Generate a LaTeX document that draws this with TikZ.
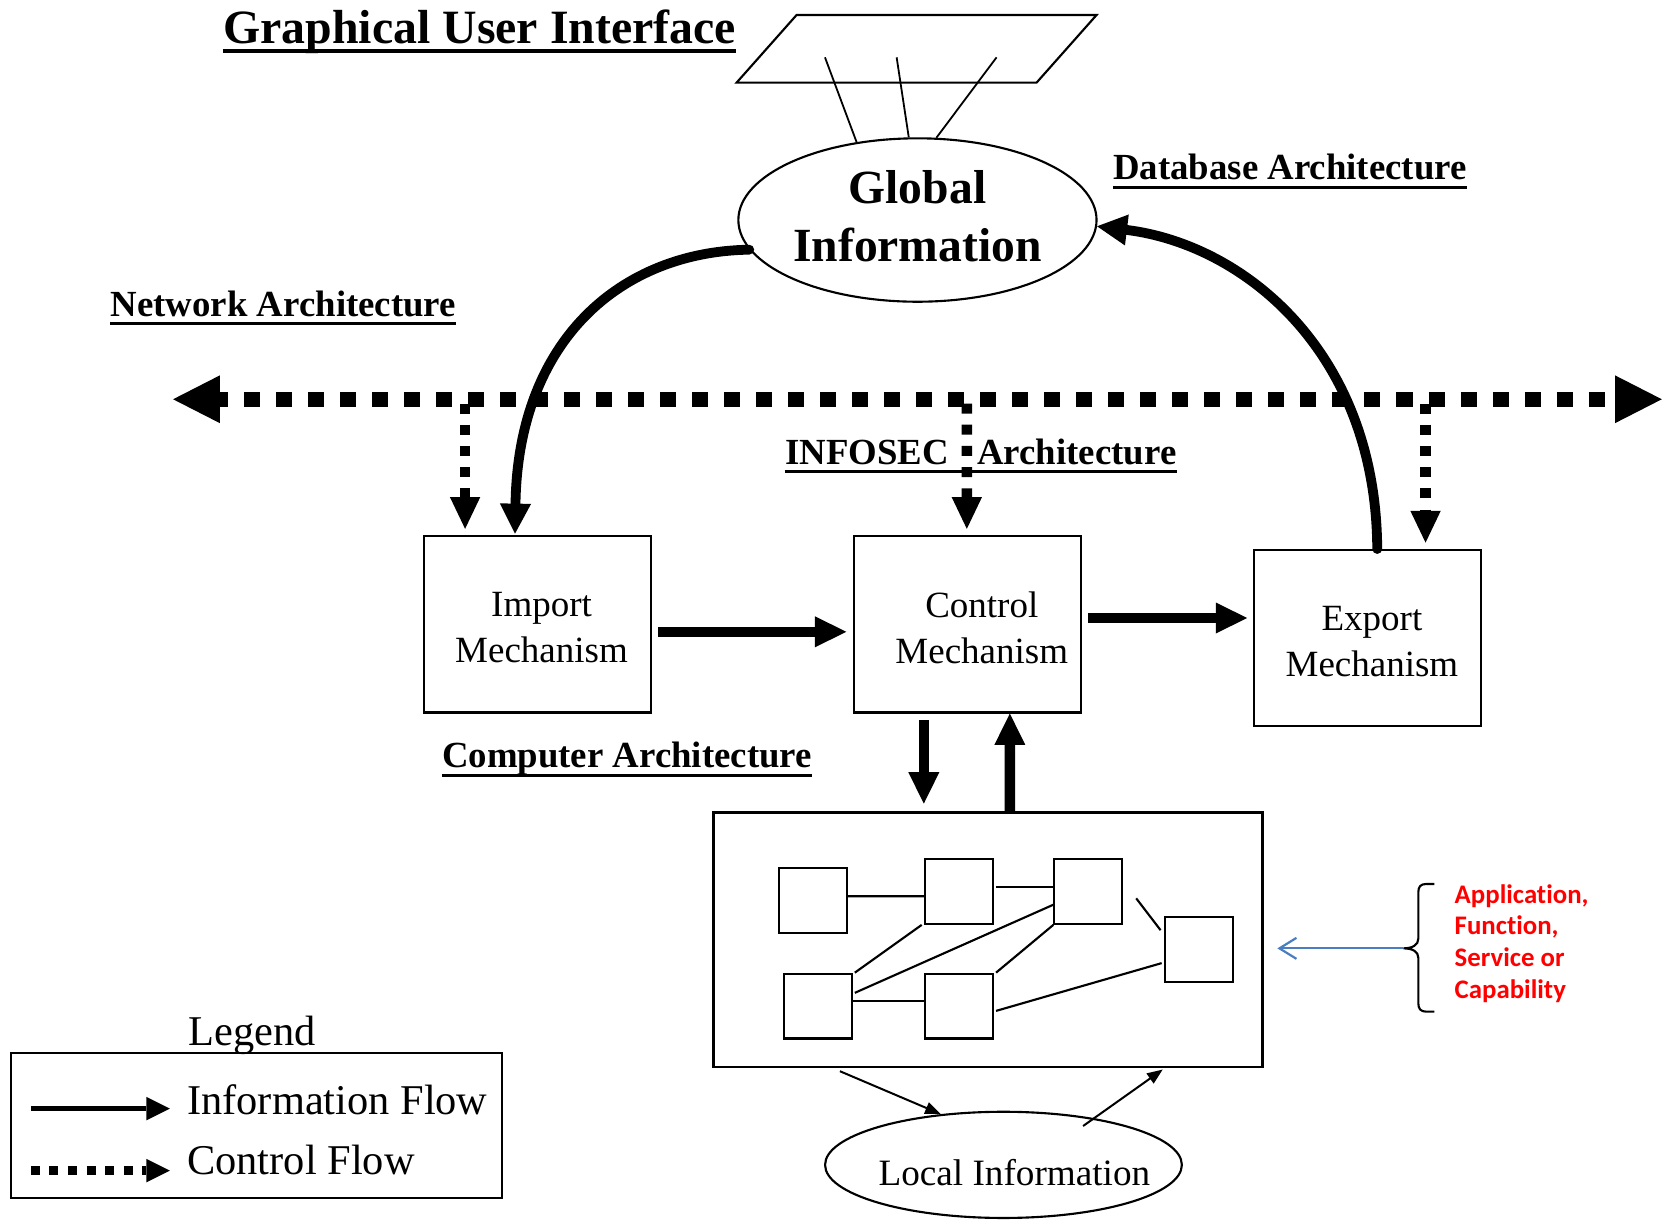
\documentclass[tikz,border=0pt]{standalone}
\usepackage{fontspec}
\setmainfont{Liberation Serif}
\newfontfamily\calibfont[Ligatures=NoCommon]{Carlito}
\usetikzlibrary{arrows.meta,shapes.geometric,calc}
\definecolor{arrowblue}{RGB}{74,126,193}
\definecolor{notered}{RGB}{255,0,0}

\tikzset{
  boxline/.style={draw, line width=1.06pt, inner sep=0pt},
  mech/.style={boxline, minimum width=113.6pt, minimum height=88.1pt},
  sbox/.style={boxline, minimum width=34pt, minimum height=32.4pt},
  mechtxt/.style={font=\fontsize{18.5}{22.8}\selectfont, align=center, inner sep=0pt},
  archlbl/.style={font=\fontsize{18.4}{22}\selectfont\bfseries, inner sep=0pt, anchor=base west},
  uline/.style={line width=1.6pt},
  infoflow/.style={line width=5.3pt, -{Triangle[length=15.7pt,width=15.5pt,line width=0pt]}},
  curveflow/.style={line width=4.9pt, line cap=round, -{Triangle[length=15pt,width=15.6pt,line width=0pt]}},
  netflow/.style={line width=7.4pt, dash pattern=on 8pt off 8pt, dash phase=3.7pt,
    {Triangle[length=23.4pt,width=23.9pt,line width=0pt]}-{Triangle[length=23.4pt,width=23.9pt,line width=0pt]}},
  dropflow/.style={line width=5.3pt, dash pattern=on 5pt off 5.6pt, -{Triangle[length=15.9pt,width=15.2pt,line width=0pt]}},
  wireline/.style={line width=0.9pt},
  linkline/.style={line width=1.06pt},
  thinarrow/.style={line width=1pt, -{Triangle[length=7.8pt,width=6pt]}},
  bluearrow/.style={line width=1.1pt, draw=arrowblue, -{Straight Barb[length=8.5pt,width=10.5pt]}},
  legsolid/.style={line width=2.8pt, -{Triangle[length=11.7pt,width=11.7pt,line width=0pt]}},
  legdotted/.style={line width=4.2pt, dash pattern=on 4.5pt off 4.8pt, -{Triangle[length=11.7pt,width=11.7pt,line width=0pt]}},
  legfont/.style={font=\fontsize{21.2}{25}\selectfont, inner sep=0pt, anchor=base west},
}

\begin{document}
\begin{tikzpicture}[x=0.53093pt, y=-0.53093pt]
\useasboundingbox (0,0) rectangle (1568,1148);

% ---- GUI screen and global information store ----
\draw[linkline] (750.2,14.1) -- (1032.7,14.1) -- (976.2,77.8) -- (693.7,77.8) -- cycle;
\coordinate (g1) at (776.9,54);
\coordinate (g2) at (844.4,54);
\coordinate (g3) at (938.5,54);

\node[ellipse, boxline, minimum width=179.1pt, minimum height=81.7pt] (glob) at (864,207.2) {};
\node[font=\fontsize{23.8}{29.2}\selectfont\bfseries, align=center, inner sep=0pt] (globtxt) at (864,203.8) {Global\\Information};

\draw[wireline] (g1) -- (glob.128);
\draw[wireline] (g2) -- (glob.96);
\draw[wireline] (g3) -- (glob.77);

% ---- titles ----
\node[font=\fontsize{23.9}{28}\selectfont\bfseries, inner sep=0pt, anchor=base west] (gui) at (210,40.7) {Graphical User Interface};
\draw[line width=1.9pt] ($(gui.base west)+(0,7.5)$) -- ($(gui.base east)+(0,7.5)$);

\node[archlbl] (dblbl) at (1048,169.5) {Database Architecture};
\draw[uline] ($(dblbl.base west)+(0,7)$) -- ($(dblbl.base east)+(0,7)$);

\node[archlbl] (netlbl) at (104,298) {Network Architecture};
\draw[uline] ($(netlbl.base west)+(0,7)$) -- ($(netlbl.base east)+(0,7)$);

\node[archlbl] (seclbl) at (739,437) {INFOSEC\hspace*{0.78em}Architecture};
\draw[uline] ($(seclbl.base west)+(0,7)$) -- ($(seclbl.base east)+(0,7)$);

\node[archlbl] (complbl) at (416,723) {Computer Architecture};
\draw[uline] ($(complbl.base west)+(0,7.5)$) -- ($(complbl.base east)+(0,7.5)$);

% ---- mechanisms ----
\node[mech] (imp) at (506,588) {};
\node[mech] (ctrl) at (911,588) {};
\node[mech] (exp) at (1288,601) {};
\node[mechtxt] (imptxt) at (510,591) {Import\\Mechanism};
\node[mechtxt] (ctrltxt) at (924.6,591) {Control\\Mechanism};
\node[mechtxt] (exptxt) at (1292,604) {Export\\Mechanism};

% ---- network (control) bus ----
\coordinate (netL) at (163,376);
\coordinate (netR) at (1565,376);
\draw[netflow] (netL) -- (netR);

\coordinate (tapImp) at (438,380);
\coordinate (tapCtl) at (910.5,380);
\coordinate (tapExp) at (1342.5,380);
\draw[dropflow] (tapImp) -- ($(imp.north)+(-68,-6)$);
\draw[dropflow] (tapCtl) -- ($(ctrl.north)+(-0.5,-6)$);
\draw[dropflow] (tapExp) -- ($(exp.north)+(54.5,-6)$);

% ---- information flows ----
\draw[curveflow] (glob.190) .. controls (585,237) and (488,320) .. ($(imp.north)+(-21,-1.5)$);
\draw[curveflow] ($(exp.north)+(9,0)$) .. controls (1296,330) and (1170,230) .. (glob.358);

\draw[infoflow] ($(imp.east)+(6,7)$) -- ($(ctrl.west)+(-6,7)$);
\draw[infoflow] ($(ctrl.east)+(5.5,-6)$) -- ($(exp.west)+(-5.5,-19)$);

% ---- local system ----
\node[boxline, line width=1.3pt, minimum width=274.5pt, minimum height=127.4pt] (sys) at (930.5,885) {};
\draw[infoflow] ($(ctrl.south)+(-41,6)$) -- ($(sys.north)+(-60.5,-7)$);
\draw[infoflow] ($(sys.north)+(20.5,1)$) -- ($(ctrl.south)+(40,0)$);

\node[sbox] (s1) at (765.5,848) {};
\node[sbox] (s2) at (903,839.5) {};
\node[sbox] (s3) at (1025,839.5) {};
\node[sbox] (s4) at (1129,894) {};
\node[sbox] (s5) at (770,947.5) {};
\node[sbox] (s6) at (903,947.5) {};

\draw[linkline] ($(s1.east)+(-1,-4)$) -- ($(s2.west)+(0,4.5)$);
\draw[linkline] ($(s2.east)+(2,-4.5)$) -- ($(s3.west)+(0,-4.5)$);
\draw[linkline] ($(s2.south west)+(-2,0)$) -- ($(s5.north east)+(2,0)$);
\draw[linkline] ($(s3.west)+(0,12.5)$) -- ($(s5.east)+(2,-12.5)$);
\draw[linkline] (s3.south west) -- ($(s6.north east)+(2,0)$);
\draw[linkline] ($(s5.east)+(0,-4.5)$) -- ($(s6.west)+(0,-4.5)$);
\draw[linkline] ($(s6.east)+(2,4.5)$) -- ($(s4.west)+(-2,13)$);
\draw[linkline] ($(s3.east)+(12,6.5)$) -- ($(s4.west)+(-3,-18)$);

% ---- local information store ----
\node[ellipse, boxline, minimum width=178.4pt, minimum height=53.1pt] (loc) at (945,1097) {};
\node[font=\fontsize{18.6}{22}\selectfont, inner sep=0pt, anchor=base west] (loctxt) at (827,1116) {Local Information};
\draw[thinarrow] ($(sys.south)+(-139.5,2.6)$) -- (loc.141);
\draw[thinarrow] ($(loc.center)+(75,-36.6)$) -- ($(sys.south)+(164.5,1)$);

% ---- application note ----
\draw[linkline] (1350.8,832.5) -- (1343,832.5)
  .. controls (1338,832.5) and (1335.7,835) .. (1335.7,840) -- (1335.7,884)
  .. controls (1335.7,890) and (1330,893.1) .. (1321.6,893.1)
  .. controls (1330,893.1) and (1335.7,896) .. (1335.7,902) -- (1335.7,945)
  .. controls (1335.7,950) and (1338,952.7) .. (1343,952.7) -- (1350.8,952.7);
\coordinate (bracetip) at (1321.6,893.1);
\draw[bluearrow] (bracetip) -- ($(sys.east)+(12.7,8.1)$);
\node[font=\calibfont\fontsize{13.4}{15.9}\selectfont\bfseries, text=notered, align=left, inner sep=0pt, anchor=west] (apptxt) at (1369.6,888.5) {Application,\\Function,\\Service or\\Capability};

% ---- legend ----
\node[boxline, minimum width=245.8pt, minimum height=72.2pt] (legbox) at (241.5,1060) {};
\node[legfont] (legtitle) at (177.3,985) {Legend};
\coordinate (li1) at (29,1044);
\coordinate (li2) at (160,1044);
\coordinate (lc1) at (29,1102.4);
\coordinate (lc2) at (160,1102.4);
\draw[legsolid] (li1) -- (li2);
\draw[legdotted] (lc1) -- (lc2);
\node[legfont] (leginfo) at (176,1050) {Information Flow};
\node[legfont] (legctrl) at (176,1106.5) {Control Flow};
\end{tikzpicture}
\end{document}
